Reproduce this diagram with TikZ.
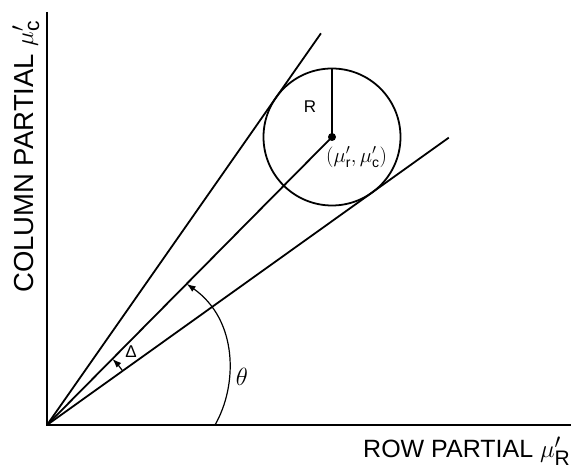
\documentclass[tikz,border=0pt]{standalone}
\usepackage{fontspec}
\setmainfont{Liberation Sans}
\usepackage{tikz}
\usetikzlibrary{arrows.meta,calc}

\begin{document}
\begin{tikzpicture}[x=1pt, y=1pt,
    ax/.style={line width=1.7pt},
    ray/.style={line width=1.8pt},
    ang/.style={line width=1.2pt, -{Latex[length=9pt, width=6.5pt]}},
    lab/.style={inner sep=0pt, font=\fontsize{25}{30}\selectfont}]
  \useasboundingbox (0,0) rectangle (571,470);
  % Axes
  \coordinate (O) at (47,45);
  \coordinate (ytop) at (47,458);
  \coordinate (xend) at (571,45);
  \draw[ax] (ytop) -- (O) -- (xend);
  % Circle of radius R
  \coordinate (ctr) at (332,333);
  \coordinate (rtop) at (332,401.5);
  \draw[ray] (ctr) circle (68.5);
  \draw[ray] (ctr) -- (rtop);
  \fill (ctr) circle (4);
  % Rays from the origin
  \coordinate (up) at ($(O)+(55.03:478)$);
  \coordinate (low) at ($(O)+(35.57:494)$);
  \draw[ray] (O) -- (up);
  \draw[ray] (O) -- (ctr);
  \draw[ray] (O) -- (low);
  % Angles
  \coordinate (th0) at (215,45);
  \coordinate (th1) at ($(O)!0.49!(ctr)$);
  \draw[ang] (th0) .. controls (238,85) and (238,150) .. (th1);
  \coordinate (d0) at ($(O)+(35.57:93)$);
  \draw[ang] (d0) arc[start angle=35.57, end angle=45.3, radius=93];
  % Labels
  \node[lab, anchor=base west] (xlab) at (363,12) {ROW PARTIAL {\fontsize{30}{34}\selectfont$\mu'_{\mathrm{R}}$}};
  \node[lab, font=\fontsize{27.5}{30}\selectfont, rotate=90, anchor=base west] (ylab) at (33,177) {COLUMN PARTIAL {\fontsize{30}{34}\selectfont$\mu'_{\mathrm{c}}$}};
  \node[font=\fontsize{17}{20}\selectfont] (rlab) at (310,363) {R};
  \node[font=\fontsize{20}{24}\selectfont, anchor=west, inner sep=0pt] (clab) at (326,313) {$(\mu'_{\mathrm{r}},\mu'_{\mathrm{c}})$};
  \node[font=\fontsize{17}{20}\selectfont] (dlab) at (131,118) {Δ};
  \node[font=\fontsize{24}{28}\selectfont] (tlab) at (242,93) {$\theta$};
\end{tikzpicture}
\end{document}
